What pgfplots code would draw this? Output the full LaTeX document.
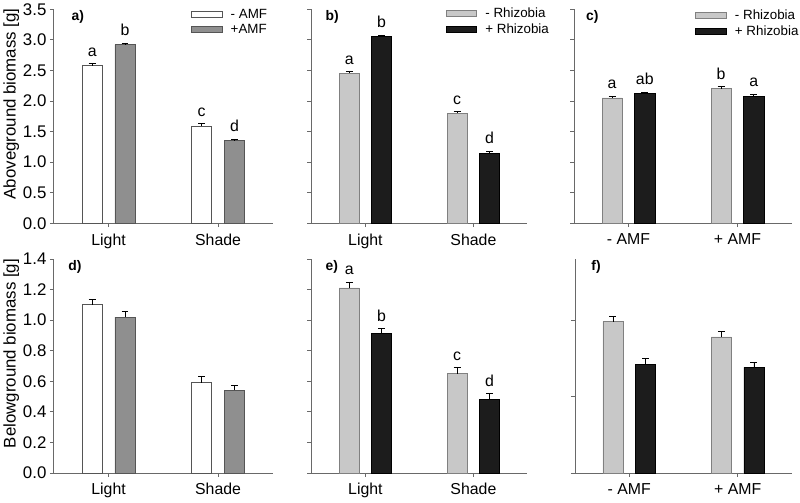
\documentclass[border=0pt]{standalone}
\usepackage{fontspec}
\setmainfont{Liberation Sans}
\usepackage{pgfplots}
\usepackage{pgfplotstable}
\pgfplotsset{compat=1.18}

\definecolor{axgray}{RGB}{105,105,105}
\definecolor{bordgray}{RGB}{85,85,85}
\definecolor{midgray}{RGB}{143,143,143}
\definecolor{lgray}{RGB}{200,200,200}
\definecolor{nearblack}{RGB}{28,28,28}

% panel a / d : AMF (bars at Light = 0, Shade = 1, shifted by -/+ 0.15)
\pgfplotstableread{
x y err
-0.15 2.58 0.03
0.85 1.59 0.04
}\aMinus
\pgfplotstableread{
x y err
0.15 2.92 0.03
1.15 1.35 0.03
}\aPlus
\pgfplotstableread{
x ly lab
-0.15 2.61 a
0.15 2.95 b
0.85 1.63 c
1.15 1.38 d
}\aLet
% panel b / e : Rhizobia
\pgfplotstableread{
x y err
-0.15 2.45 0.03
0.85 1.80 0.03
}\bMinus
\pgfplotstableread{
x y err
0.15 3.05 0.03
1.15 1.14 0.04
}\bPlus
\pgfplotstableread{
x ly lab
-0.15 2.48 a
0.15 3.08 b
0.85 1.83 c
1.15 1.18 d
}\bLet
% panel c / f : AMF x Rhizobia
\pgfplotstableread{
x y err
-0.15 2.05 0.03
0.85 2.20 0.04
}\cMinus
\pgfplotstableread{
x y err
0.15 2.13 0.02
1.15 2.08 0.03
}\cPlus
\pgfplotstableread{
x ly lab
-0.15 2.08 a
0.15 2.15 ab
0.85 2.24 b
1.15 2.11 a
}\cLet
\pgfplotstableread{
x y err
-0.15 1.10 0.035
0.85 0.59 0.04
}\dMinus
\pgfplotstableread{
x y err
0.15 1.02 0.04
1.15 0.54 0.035
}\dPlus
\pgfplotstableread{
x y err
-0.15 1.21 0.04
0.85 0.65 0.04
}\eMinus
\pgfplotstableread{
x y err
0.15 0.91 0.035
1.15 0.48 0.04
}\ePlus
\pgfplotstableread{
x ly lab
-0.15 1.25 a
0.15 0.945 b
0.85 0.69 c
1.15 0.52 d
}\eLet
\pgfplotstableread{
x y err
-0.15 0.99 0.035
0.85 0.89 0.035
}\fMinus
\pgfplotstableread{
x y err
0.15 0.71 0.04
1.15 0.69 0.035
}\fPlus

\newcommand{\mainfs}{\fontsize{16}{18}\selectfont}
\newcommand{\panfs}{\fontsize{14}{16}\selectfont\bfseries}

\pgfplotsset{
  panel/.style={
    scale only axis, height=216pt,
    axis lines*=left,
    axis line style={draw=axgray, line width=0.8pt},
    tick style={draw=axgray, line width=0.8pt},
    tick align=outside, major tick length=4pt,
    xmin=-0.5, xmax=1.5, xtick={0,1}, ymin=0,
    clip=false,
    tick label style={font=\mainfs},
    xticklabel style={yshift=-3pt},
    yticklabel style={font=\fontsize{17}{19}\selectfont},
    /pgf/number format/assume math mode=true,
    yticklabel style={/pgf/number format/.cd, fixed, fixed zerofill, precision=1},
    ylabel style={font=\fontsize{17}{19}\selectfont, at={(axis description cs:-0.195,0.558)}, anchor=center},
    legend style={draw=none, fill=none, inner sep=0pt, row sep=2pt,
      font=\fontsize{13.5}{15}\selectfont, anchor=north west,
      nodes={inner sep=1.5pt},
      /tikz/every odd column/.append style={column sep=7pt}},
    legend cell align=left,
    legend image code/.code={\draw[##1] (0pt,-3pt) rectangle (31pt,3pt);},
  },
  bars/.style={ybar, bar width=0.185, bar shift=0pt, line width=0.7pt},
  errs/.style={error bars/.cd, y dir=plus, y explicit,
    error bar style={line width=0.6pt, draw=black},
    error mark options={rotate=90, mark size=3.5pt, line width=0.6pt, draw=black}},
  lets/.style={draw=none, mark=none, nodes near coords, point meta=explicit symbolic,
    nodes near coords style={anchor=south, inner sep=0pt, yshift=7pt, font=\mainfs, text=black}},
}

\begin{document}
\begin{tikzpicture}
\path (0pt,0pt) rectangle (800pt,-505pt);

% ---------- a) ----------
\begin{axis}[panel, width=221pt, at={(52pt,-223pt)}, anchor=south west,
  ymax=3.5, ytick={0,0.5,...,3.5}, xticklabels={Light,Shade},
  ylabel={Aboveground biomass [g]},
  legend style={at={(0.625,1.01)}}]
\addlegendimage{fill=white, draw=bordgray, line width=0.7pt}
\addlegendentry{- AMF}
\addlegendimage{fill=midgray, draw=bordgray, line width=0.7pt}
\addlegendentry{+AMF}
\addplot[bars, fill=white, draw=bordgray, errs] table[x=x, y=y, y error=err] {\aMinus};
\addplot[bars, fill=midgray, draw=bordgray, errs] table[x=x, y=y, y error=err] {\aPlus};
\addplot[lets] table[x=x, y=ly, meta=lab] {\aLet};
\node[anchor=west, font=\panfs] at (rel axis cs:0.065,0.963) {a)};
\end{axis}

% ---------- b) ----------
\begin{axis}[panel, width=218pt, at={(312pt,-223pt)}, anchor=south west,
  ymax=3.5, ytick={0,0.5,...,3.5}, yticklabels={}, xticklabels={Light,Shade},
  legend style={at={(0.62,1.015)}}]
\addlegendimage{fill=lgray, draw=gray, line width=0.7pt}
\addlegendentry{- Rhizobia}
\addlegendimage{fill=nearblack, draw=black, line width=0.7pt}
\addlegendentry{+ Rhizobia}
\addplot[bars, fill=lgray, draw=gray, errs] table[x=x, y=y, y error=err] {\bMinus};
\addplot[bars, fill=nearblack, draw=black, errs] table[x=x, y=y, y error=err] {\bPlus};
\addplot[lets] table[x=x, y=ly, meta=lab] {\bLet};
\node[anchor=west, font=\panfs] at (rel axis cs:0.05,0.963) {b)};
\end{axis}

% ---------- c) ----------
\begin{axis}[panel, width=220pt, at={(577pt,-223pt)}, anchor=south west,
  ymax=3.5, ytick={0,0.5,...,3.5}, yticklabels={}, xticklabels={- AMF,+ AMF},
  legend style={at={(0.555,1.005)}}]
\addlegendimage{fill=lgray, draw=gray, line width=0.7pt}
\addlegendentry{- Rhizobia}
\addlegendimage{fill=nearblack, draw=black, line width=0.7pt}
\addlegendentry{+ Rhizobia}
\addplot[bars, fill=lgray, draw=gray, errs] table[x=x, y=y, y error=err] {\cMinus};
\addplot[bars, fill=nearblack, draw=black, errs] table[x=x, y=y, y error=err] {\cPlus};
\addplot[lets] table[x=x, y=ly, meta=lab] {\cLet};
\node[anchor=west, font=\panfs] at (rel axis cs:0.04,0.963) {c)};
\end{axis}

% ---------- d) ----------
\begin{axis}[panel, width=221pt, at={(52pt,-475pt)}, anchor=south west,
  ymax=1.4, ytick={0,0.2,0.4,0.6,0.8,1.0,1.2,1.4}, xticklabels={Light,Shade},
  ylabel={Belowground biomass [g]}]
\addplot[bars, fill=white, draw=bordgray, errs] table[x=x, y=y, y error=err] {\dMinus};
\addplot[bars, fill=midgray, draw=bordgray, errs] table[x=x, y=y, y error=err] {\dPlus};
\node[anchor=west, font=\panfs] at (rel axis cs:0.05,0.963) {d)};
\end{axis}

% ---------- e) ----------
\begin{axis}[panel, width=218pt, at={(312pt,-475pt)}, anchor=south west,
  ymax=1.4, ytick={0,0.2,0.4,0.6,0.8,1.0,1.2,1.4}, yticklabels={}, xticklabels={Light,Shade}]
\addplot[bars, fill=lgray, draw=gray, errs] table[x=x, y=y, y error=err] {\eMinus};
\addplot[bars, fill=nearblack, draw=black, errs] table[x=x, y=y, y error=err] {\ePlus};
\addplot[lets] table[x=x, y=ly, meta=lab] {\eLet};
\node[anchor=west, font=\panfs] at (rel axis cs:0.05,0.963) {e)};
\end{axis}

% ---------- f) ----------
\begin{axis}[panel, width=219pt, at={(578pt,-475pt)}, anchor=south west,
  ymax=1.4, ytick={0,0.5,1.0}, yticklabels={}, xticklabels={- AMF,+ AMF}]
\addplot[bars, fill=lgray, draw=gray, errs] table[x=x, y=y, y error=err] {\fMinus};
\addplot[bars, fill=nearblack, draw=black, errs] table[x=x, y=y, y error=err] {\fPlus};
\node[anchor=west, font=\panfs] at (rel axis cs:0.06,0.963) {f)};
\end{axis}
\end{tikzpicture}
\end{document}
